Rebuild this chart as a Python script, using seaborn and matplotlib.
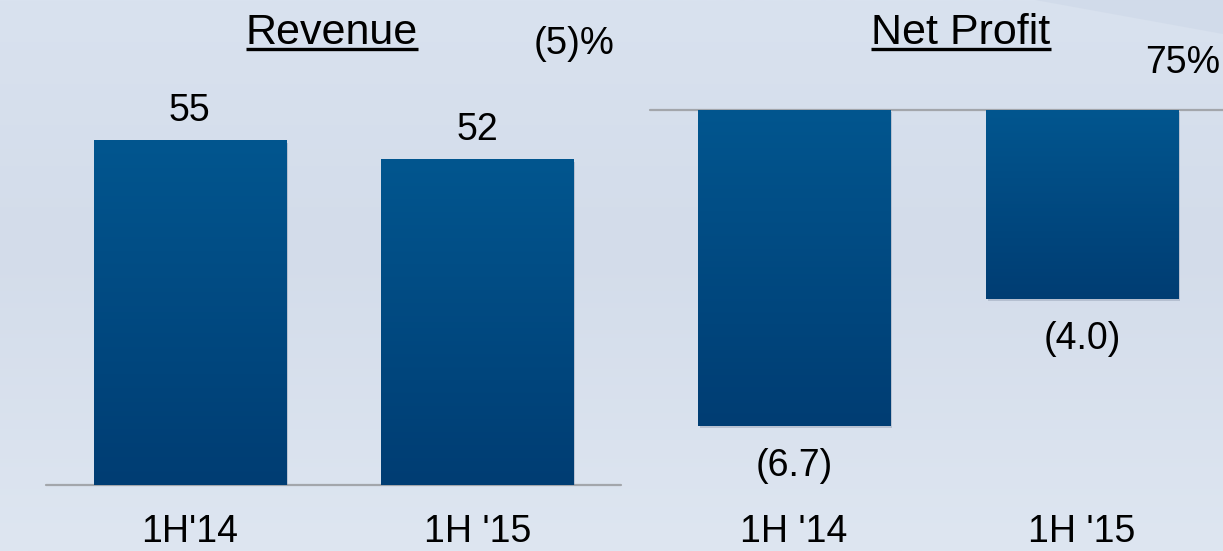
import numpy as np
import matplotlib
matplotlib.use("Agg")
import matplotlib.pyplot as plt
import matplotlib.patheffects as pe
from matplotlib.colors import LinearSegmentedColormap
from matplotlib.lines import Line2D
from matplotlib.patches import Polygon
import seaborn as sns

# ---- data ----
rev_periods = ["1H'14", "1H '15"]
revenue = [55, 52]
rev_change = "(5)%"

np_periods = ["1H '14", "1H '15"]
net_profit = [-6.7, -4.0]
np_change = "75%"

panel_titles = ["Revenue", "Net Profit"]

# ---- style ----
sns.set_style("white")
plt.rcParams["font.family"] = ["Liberation Sans", "DejaVu Sans"]
plt.rcParams["text.color"] = "black"
FS = 27
TITLE_FS = 31
BAR_TOP = "#02568f"
BAR_BOTTOM = "#003d73"
BASE_CLR = "#a3a6ab"

W, H = 1223, 551
fig = plt.figure(figsize=(W / 100, H / 100), dpi=100)


def axes_px(left, top, right, bottom, **kw):
    return fig.add_axes([left / W, 1 - bottom / H, (right - left) / W, (bottom - top) / H], **kw)


# background wash
bg = fig.add_axes([0, 0, 1, 1], zorder=-10)
bg.axis("off")
bg_cmap = LinearSegmentedColormap.from_list(
    "bg", [(0.0, "#d9e2ef"), (0.45, "#d3dcea"), (1.0, "#dee6f1")])
grad = np.linspace(0, 1, 256).reshape(-1, 1)
bg.imshow(grad, cmap=bg_cmap, aspect="auto", extent=[0, 1, 0, 1], origin="upper")
bg.add_patch(Polygon([(1035 / W, 1), (1, 1), (1, 1 - 34 / H)], closed=True,
                     facecolor="#d0dae9", edgecolor="none", alpha=0.8))
bg.set_xlim(0, 1)
bg.set_ylim(0, 1)

bar_cmap = LinearSegmentedColormap.from_list("bar", [BAR_TOP, BAR_BOTTOM])


def shade_bars(ax):
    xl, yl = ax.get_xlim(), ax.get_ylim()
    for p in ax.patches:
        x0, y0 = p.get_x(), p.get_y()
        w, h = p.get_width(), p.get_height()
        lo, hi = min(y0, y0 + h), max(y0, y0 + h)
        ax.imshow(grad, cmap=bar_cmap, aspect="auto", interpolation="bicubic",
                  extent=[x0, x0 + w, lo, hi], origin="upper",
                  clip_path=p, zorder=p.get_zorder() + 0.5)
    ax.set_xlim(xl)
    ax.set_ylim(yl)


def style_axes(ax):
    ax.set_facecolor("none")
    for s in ax.spines.values():
        s.set_visible(False)
    ax.set_yticks([])
    ax.set_xlabel("")
    ax.set_ylabel("")
    ax.tick_params(axis="x", length=0, pad=21, labelsize=FS, colors="black")
    ax.axhline(0, color=BASE_CLR, lw=1.6, clip_on=False, zorder=1)


shadow = [pe.SimplePatchShadow(offset=(1.5, -1.5), shadow_rgbFace="#5a6780", alpha=0.25), pe.Normal()]

# ---- Revenue panel ----
ax1 = axes_px(46, 40, 621, 485)
sns.barplot(x=rev_periods, y=revenue, ax=ax1, color=BAR_TOP, width=0.668,
            saturation=1, edgecolor="none", zorder=2)
ax1.set_xlim(-0.5, 1.5)
ax1.set_ylim(0, 445 / 6.26)
style_axes(ax1)
for p, v in zip(ax1.patches, revenue):
    p.set_path_effects(shadow)
    ax1.annotate(f"{v:g}", xy=(p.get_x() + p.get_width() / 2, v),
                 xytext=(0, 14), textcoords="offset points",
                 ha="center", va="baseline", fontsize=FS, annotation_clip=False)
shade_bars(ax1)

# ---- Net Profit panel ----
ax2 = axes_px(650, 110, 1226, 485)
sns.barplot(x=np_periods, y=net_profit, ax=ax2, color=BAR_TOP, width=0.668,
            saturation=1, edgecolor="none", zorder=2)
ax2.set_xlim(-0.5, 1.5)
ax2.set_ylim(-375 / 47.2, 0)
style_axes(ax2)
for p, v in zip(ax2.patches, net_profit):
    p.set_path_effects(shadow)
    ax2.annotate(f"({abs(v):.1f})", xy=(p.get_x() + p.get_width() / 2, v),
                 xytext=(0, -36), textcoords="offset points",
                 ha="center", va="baseline", fontsize=FS, annotation_clip=False)
shade_bars(ax2)

# ---- titles (underlined) and change figures ----
titles = []
for txt, cx in zip(panel_titles, [332, 961]):
    titles.append(fig.text(cx / W, 1 - 44 / H, txt, ha="center", va="baseline", fontsize=TITLE_FS))
fig.text(574 / W, 1 - 54 / H, rev_change, ha="center", va="baseline", fontsize=FS + 0.5)
fig.text(1183 / W, 1 - 73 / H, np_change, ha="center", va="baseline", fontsize=FS)

fig.canvas.draw()
for t in titles:
    bb = t.get_window_extent()
    y = 1 - 48.5 / H
    fig.add_artist(Line2D([bb.x0 / W, bb.x1 / W], [y, y], transform=fig.transFigure,
                          color="black", lw=2.4, solid_capstyle="butt"))

fig.savefig("out.png", dpi=100)
